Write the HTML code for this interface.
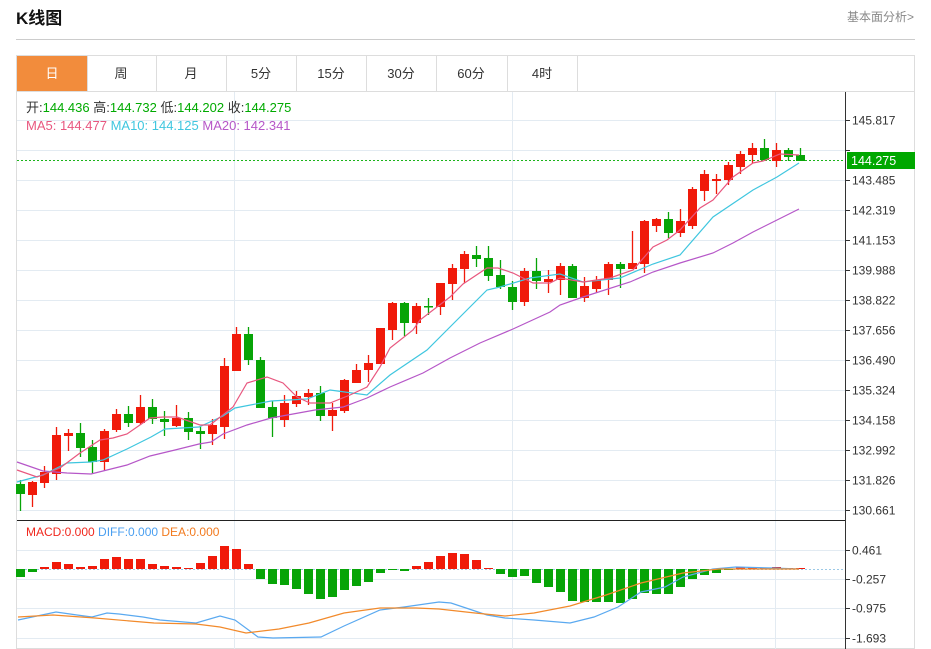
<!DOCTYPE html>
<html><head><meta charset="utf-8"><style>
body{margin:0;background:#fff;width:931px;height:649px;overflow:hidden;font-family:"Liberation Sans","Noto Sans CJK SC",sans-serif;}
</style></head><body>
<svg id="s" width="931" height="649" xmlns="http://www.w3.org/2000/svg" style="position:absolute;left:0;top:0" font-family="Liberation Sans, Noto Sans CJK SC, sans-serif">
<text x="16" y="24" font-size="17" font-weight="bold" fill="#111">K线图</text>
<text x="914" y="21" font-size="12" fill="#888" text-anchor="end">基本面分析&gt;</text>
<line x1="16" y1="39.5" x2="915" y2="39.5" stroke="#ccc"/>
<rect x="16.5" y="55.5" width="898" height="593" fill="none" stroke="#ddd"/>
<line x1="16" y1="91.5" x2="915" y2="91.5" stroke="#ddd"/>
<rect x="17" y="56" width="70" height="35" fill="#f28c3c"/>
<g stroke="#ddd"><line x1="87.5" y1="56" x2="87.5" y2="91"/><line x1="156.5" y1="56" x2="156.5" y2="91"/><line x1="226.5" y1="56" x2="226.5" y2="91"/><line x1="296.5" y1="56" x2="296.5" y2="91"/><line x1="366.5" y1="56" x2="366.5" y2="91"/><line x1="436.5" y1="56" x2="436.5" y2="91"/><line x1="507.5" y1="56" x2="507.5" y2="91"/><line x1="577.5" y1="56" x2="577.5" y2="91"/></g>
<g font-size="13" text-anchor="middle" fill="#333"><text x="52" y="78" fill="#fff">日</text><text x="121" y="78">周</text><text x="191" y="78">月</text><text x="261" y="78">5分</text><text x="331" y="78">15分</text><text x="401" y="78">30分</text><text x="471" y="78">60分</text><text x="542" y="78">4时</text></g>
<g id="grid" stroke="#e3ebf2" stroke-width="1"></g>
<g id="chart"></g>
<line x1="845.5" y1="92" x2="845.5" y2="649" stroke="#333"/>
<line x1="17" y1="520.5" x2="845" y2="520.5" stroke="#222"/>
<g font-size="13"><text x="26" y="112" fill="#333">开:<tspan fill="#0a0">144.436</tspan>  高:<tspan fill="#0a0">144.732</tspan>  低:<tspan fill="#0a0">144.202</tspan>  收:<tspan fill="#0a0">144.275</tspan></text>
<text x="26" y="130" fill="#e8577f">MA5: 144.477 <tspan fill="#3fc6df">MA10: 144.125 </tspan><tspan fill="#b657c8">MA20: 142.341</tspan></text></g>
<text x="26" y="536" font-size="12" fill="#f0281e">MACD:0.000 <tspan fill="#4a9ff0">DIFF:0.000 </tspan><tspan fill="#f27a1e">DEA:0.000</tspan></text>
<g id="ax" font-size="12" fill="#333"></g>
<rect x="847" y="152" width="68" height="17" fill="#00a800"/>
<text x="851" y="165" font-size="12.5" fill="#fff">144.275</text>
</svg>
<script>
var NS="http://www.w3.org/2000/svg",g=document.getElementById('grid'),ch=document.getElementById('chart'),ax=document.getElementById('ax');
function el(p,t,a){var e=document.createElementNS(NS,t);for(var k in a)e.setAttribute(k,a[k]);p.appendChild(e);return e;}
var labs=["145.817","144.651","143.485","142.319","141.153","139.988","138.822","137.656","136.490","135.324","134.158","132.992","131.826","130.661"];
for(var i=0;i<14;i++){var y=120+i*30+.5;el(g,'line',{x1:17,y1:y,x2:845,y2:y});el(ax,'line',{x1:846,y1:y,x2:850,y2:y,stroke:'#333'});if(i!=1){var t=el(ax,'text',{x:852,y:y+4});t.textContent=labs[i];}}
[234.5,512.5,775.5].forEach(function(x){el(g,'line',{x1:x,y1:92,x2:x,y2:520});el(g,'line',{x1:x,y1:521,x2:x,y2:649});});
[[550,"0.461"],[579,"-0.257"],[608,"-0.975"],[638,"-1.693"]].forEach(function(a){var y=a[0]+.5;el(g,'line',{x1:17,y1:y,x2:845,y2:y});el(ax,'line',{x1:846,y1:y,x2:850,y2:y,stroke:'#333'});var t=el(ax,'text',{x:852,y:y+4});t.textContent=a[1];});
el(ch,'line',{x1:17,y1:160.5,x2:845,y2:160.5,stroke:'#1bb51b','stroke-dasharray':'2,2'});
el(ch,'line',{x1:17,y1:569.5,x2:845,y2:569.5,stroke:'#9cc9e6','stroke-dasharray':'2,2'});
var C=[[484,494,480,511,0],[482,495,481,507,1],[472,483,466,488,1],[435,474,427,480,1],[433,436,429,451,1],[433,448,423,457,0],[447,462,440,474,0],[431,462,429,471,1],[414,430,409,432,1],[414,423,406,427,0],[407,423,395,425,1],[407,419,399,424,0],[419,422,411,436,0],[418,426,405,427,1],[418,432,412,440,0],[431,434,427,449,0],[425,434,419,445,1],[366,427,358,439,1],[334,371,327,371,1],[334,360,327,365,0],[360,408,357,408,0],[407,418,401,437,0],[403,420,395,427,1],[396,404,391,407,1],[393,397,389,405,1],[393,416,386,421,0],[410,416,403,431,1],[380,411,379,413,1],[370,383,364,383,1],[363,370,355,382,1],[328,364,328,364,1],[303,330,302,340,1],[303,323,302,336,0],[306,323,303,334,1],[306,307,298,315,0],[283,307,283,315,1],[268,284,264,300,1],[254,269,251,283,1],[255,259,246,267,0],[258,276,246,281,0],[275,287,260,289,0],[287,302,281,310,0],[271,302,268,306,1],[271,281,258,289,0],[279,282,270,293,1],[266,280,263,295,1],[266,298,264,298,0],[286,298,277,302,1],[280,289,276,293,1],[264,280,262,295,1],[264,269,262,288,0],[263,269,231,269,1],[221,264,220,273,1],[219,226,218,232,1],[219,233,212,238,0],[221,233,209,237,1],[189,226,187,229,1],[174,191,170,201,1],[179,181,174,194,1],[165,180,162,185,1],[154,167,151,174,1],[148,155,143,163,1],[148,160,139,160,0],[150,161,143,167,1],[150,157,148,161,0],[155,161,148,161,0]];
var R='#f01a0a',G='#07a407';
C.forEach(function(c,i){var x=20+i*12,col=c[4]?R:G;el(ch,'line',{x1:x+.5,y1:c[2],x2:x+.5,y2:c[3],stroke:col,'stroke-width':1.3});el(ch,'rect',{x:x-4,y:c[0],width:9,height:Math.max(1.5,c[1]-c[0]),fill:col});});
function pl(pts,col,w){el(ch,'polyline',{points:pts,fill:'none',stroke:col,'stroke-width':w||1.2});}
pl("17,462 43,471 67,473 91,474 103,471 127,465 150,456 175,450 199,444 211,442 223,434 247,425 271,418 315,410 343,407 367,398 390,387 423,373 450,358 480,343 513,329 550,312 560,305 583,297 630,282 653,272 680,263 713,253 733,243 753,232 777,220 799,209",'#b657c8');
pl("17,482 43,475 67,463 91,462 103,460 127,449 151,437 165,429 199,427 223,416 235,408 271,401 307,399 330,390 367,395 390,375 427,350 447,330 487,290 500,287 530,278 560,274 583,282 620,278 653,264 680,255 713,217 753,190 777,177 799,163",'#3fc6df');
pl("17,470 37,477 60,468 80,453 100,440 113,438 127,434 150,418 163,417 177,417 200,425 210,425 233,407 247,383 267,377 283,383 297,397 310,403 330,403 350,395 367,387 380,367 390,348 413,330 420,320 450,297 463,284 487,268 498,268 513,273 533,283 550,283 560,278 583,282 610,278 633,270 653,247 667,240 680,230 700,208 713,200 733,177 753,163 763,161 780,154 799,155",'#e8577f');
var M=[577,572,567,562,564,567,566,559,557,559,559,564,566,567,568,563,556,546,549,564,579,584,585,589,594,599,597,590,586,582,573,570,571,566,562,556,553,554,560,568,574,577,576,583,587,592,601,602,602,602,603,599,593,594,594,587,579,575,573,570,567,567,568,567,568,568];
M.forEach(function(v,i){var x=20+i*12,col=v<569?R:G;var y0=Math.min(v,569),h=Math.max(1,Math.abs(v-569));el(ch,'rect',{x:x-4,y:y0,width:9,height:h,fill:col});});
pl("18,620 56,612 77,615 92,617 107,613 119,614 143,617 160,620 196,623 220,616 235,620 258,637 273,638 321,637 344,626 380,610 404,607 439,602 451,603 487,615 505,618 534,620 570,623 594,617 618,607 641,592 665,587 683,577 713,569 736,567 772,568 799,569",'#5aa9f0');
pl("18,617 53,615 95,618 154,623 196,624 220,627 246,633 279,629 309,623 344,613 380,608 416,608 439,609 475,613 505,616 534,613 570,606 606,595 641,583 683,573 719,569 772,569 799,569",'#f28a2b');
</script>
</body></html>
